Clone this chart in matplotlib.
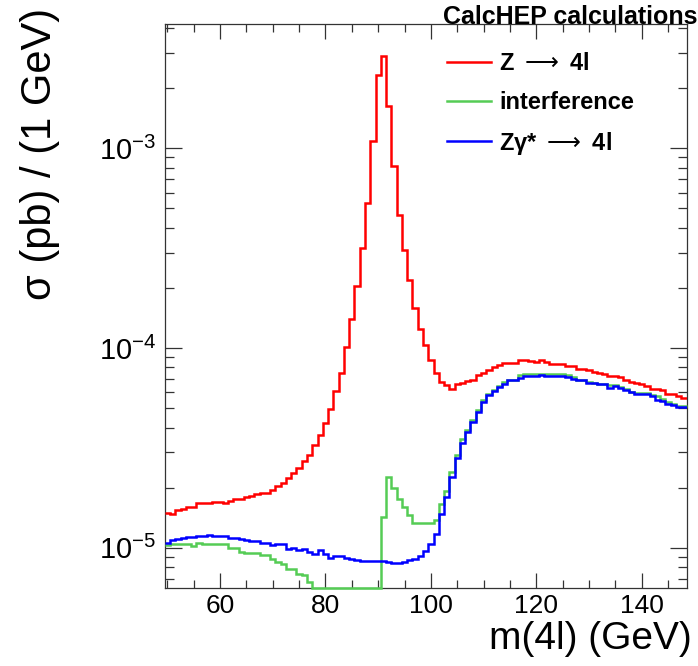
import numpy as np
import matplotlib
matplotlib.use("Agg")
import matplotlib.pyplot as plt
from matplotlib.ticker import MultipleLocator, LogLocator, NullFormatter
from matplotlib.lines import Line2D

plt.rcParams['font.family'] = ['Liberation Sans', 'DejaVu Sans']
plt.rcParams['mathtext.fontset'] = 'dejavusans'

# ---------------- data (1 GeV bins centred on integer masses) ----------------
mass = np.arange(50, 149)  # bin centres, GeV

# sigma per bin in units of 1e-5 pb
red_vals = [
    1.50, 1.47, 1.54, 1.56, 1.60, 1.60, 1.67, 1.68, 1.68, 1.70,
    1.70, 1.68, 1.72, 1.75, 1.76, 1.80, 1.82, 1.85, 1.87, 1.89,
    1.94, 2.05, 2.12, 2.23, 2.38, 2.51, 2.71, 2.93, 3.26, 3.68,
    4.21, 4.97, 6.07, 7.53, 10.1, 13.9, 20.4, 31.8, 53.2, 108.4,
    234.0, 289.0, 162.0, 81.3, 46.6, 31.1, 21.8, 15.9, 12.4, 10.4,
    8.68, 7.53, 6.76, 6.50, 6.26, 6.58, 6.71, 6.84, 6.95, 7.30,
    7.53, 7.80, 8.04, 8.26, 8.41, 8.45, 8.45, 8.68, 8.68, 8.61,
    8.51, 8.68, 8.48, 8.35, 8.29, 8.29, 8.13, 8.13, 7.89, 7.82,
    7.73, 7.58, 7.53, 7.45, 7.24, 7.24, 7.16, 6.95, 6.76, 6.71,
    6.64, 6.46, 6.26, 6.21, 6.14, 5.91, 5.91, 5.73, 5.62,
]
# interference; 0 marks bins below the axis floor (negative interference)
green_vals = [
    1.036, 1.048, 1.048, 1.048, 1.048, 1.016, 1.060, 1.048, 1.048, 1.040,
    1.040, 1.040, 0.997, 0.997, 0.952, 0.941, 0.941, 0.941, 0.916, 0.916,
    0.875, 0.848, 0.826, 0.786, 0.786, 0.742, 0.727, 0.673, 0.0, 0.0,
    0.0, 0.0, 0.0, 0.0, 0.0, 0.0, 0.0, 0.0, 0.0, 0.0,
    0.0, 1.425, 2.259, 2.000, 1.762, 1.599, 1.453, 1.329, 1.329, 1.329,
    1.329, 1.371, 1.663, 1.916, 2.393, 2.902, 3.518, 3.903, 4.345, 4.875,
    5.471, 5.911, 6.140, 6.452, 6.756, 6.947, 6.947, 7.300, 7.385, 7.385,
    7.385, 7.385, 7.385, 7.385, 7.385, 7.385, 7.325, 7.159, 6.947, 6.947,
    6.756, 6.679, 6.640, 6.640, 6.505, 6.505, 6.378, 6.261, 6.021, 5.952,
    5.952, 5.952, 5.797, 5.729, 5.579, 5.365, 5.267, 5.106, 5.106,
]
blue_vals = [
    1.060, 1.098, 1.111, 1.118, 1.131, 1.131, 1.150, 1.150, 1.163, 1.141,
    1.144, 1.141, 1.118, 1.118, 1.102, 1.089, 1.080, 1.080, 1.060, 1.060,
    1.028, 1.040, 1.040, 0.990, 1.000, 0.978, 0.990, 0.952, 0.934, 0.970,
    0.934, 0.892, 0.906, 0.906, 0.892, 0.882, 0.865, 0.860, 0.855, 0.855,
    0.855, 0.860, 0.848, 0.838, 0.838, 0.848, 0.865, 0.882, 0.909, 0.963,
    1.048, 1.177, 1.470, 1.794, 2.259, 2.813, 3.360, 3.797, 4.261, 4.782,
    5.365, 5.797, 6.070, 6.378, 6.633, 6.892, 6.892, 7.077, 7.217, 7.217,
    7.217, 7.360, 7.217, 7.217, 7.217, 7.217, 7.159, 7.028, 6.892, 6.892,
    6.710, 6.710, 6.580, 6.580, 6.335, 6.431, 6.335, 6.190, 6.021, 5.911,
    5.911, 5.911, 5.729, 5.471, 5.409, 5.225, 5.165, 5.065, 5.065,
]

labels = [r"Z $\longrightarrow$ 4l", "interference", "Z\u03b3* $\\longrightarrow$ 4l"]
header = "CalcHEP calculations"

red = np.array(red_vals) * 1e-5
green = np.array(green_vals) * 1e-5
blue = np.array(blue_vals) * 1e-5
edges = np.append(mass - 0.5, mass[-1] + 0.5)

# ---------------- figure ----------------
RED, GREEN, BLUE = '#ff0000', '#55cc55', '#0000ff'
fig = plt.figure(figsize=(6.98, 6.66), dpi=100)
ax = fig.add_axes([0.236, 0.1167, 0.7483, 0.8473])
ymin, ymax = 6.27e-6, 4.19e-3
ax.set_yscale('log')
ax.set_xlim(49.5, 148.6)
ax.set_ylim(ymin, ymax)

lw = 1.8
ax.stairs(red, edges, color=RED, lw=lw, baseline=None, zorder=3)
ax.stairs(np.clip(green, ymin, None), edges, color=GREEN, lw=lw,
          baseline=None, clip_on=False, zorder=3)
ax.stairs(blue, edges, color=BLUE, lw=lw, baseline=None, zorder=4)

# ticks
ax.xaxis.set_major_locator(MultipleLocator(20))
ax.xaxis.set_minor_locator(MultipleLocator(5))
ax.yaxis.set_major_locator(LogLocator(base=10))
ax.yaxis.set_minor_locator(LogLocator(base=10, subs=np.arange(2, 10)))
ax.yaxis.set_minor_formatter(NullFormatter())
ax.tick_params(which='both', direction='in', top=True, right=True,
               color='#333333', width=0.9)
ax.tick_params(axis='x', which='major', length=10.8, labelsize=19, pad=4.0)
ax.tick_params(axis='x', which='minor', length=5.5)
ax.tick_params(axis='y', which='major', length=12.2, labelsize=21, pad=6)
ax.tick_params(axis='y', which='minor', length=6.5)
for s in ax.spines.values():
    s.set_color('#333333')
    s.set_linewidth(0.9)

ax.set_xlabel('m(4l) (GeV)', fontsize=28, ha='right', va='center')
ax.xaxis.set_label_coords(1.0096, -0.0905)
ax.set_ylabel('\u03c3 (pb) / (1 GeV)', fontsize=30, ha='right', va='center')
ax.yaxis.set_label_coords(-0.2388, 1.028)

# legend
handles = [Line2D([], [], color=c, lw=lw) for c in (RED, GREEN, BLUE)]
fig.legend(handles, labels, loc='upper left', bbox_to_anchor=(447 / 698, 1 - 52.5 / 666),
           frameon=False, prop={'weight': 'bold', 'size': 17}, handlelength=1.85,
           handletextpad=0.35, labelspacing=0.66, borderpad=0, borderaxespad=0)
fig.text(443 / 698, 1 - 17 / 666, header, weight='bold', size=18, ha='left', va='center')

fig.savefig('out.png', dpi=100)
